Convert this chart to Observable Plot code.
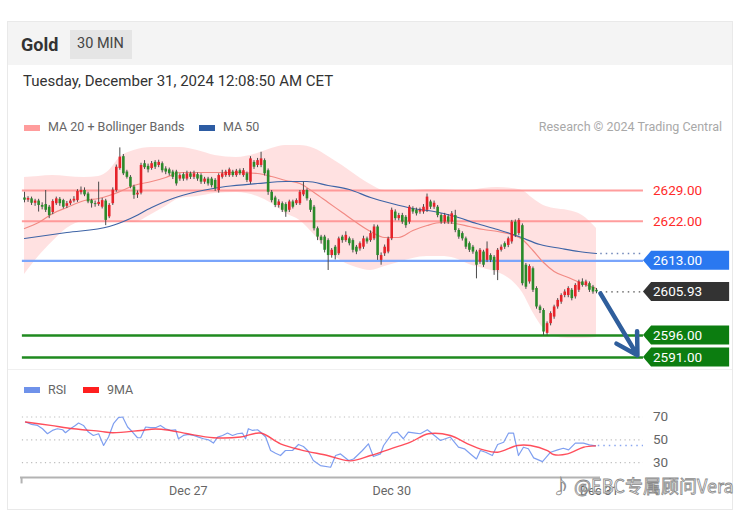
<!DOCTYPE html>
<html><head><meta charset="utf-8">
<script src="https://cdn.jsdelivr.net/npm/d3@7"></script>
<script src="https://cdn.jsdelivr.net/npm/@observablehq/plot@0.6"></script>
<style>
body{margin:0;background:#fff;font-family:Roboto,"Liberation Sans",Arial,sans-serif;}
#root{position:relative;width:747px;height:519px;overflow:hidden;background:#fff;}
.abs{position:absolute;line-height:1;white-space:nowrap;}
#price,#rsi{position:absolute;left:0;}
#price{top:140px;} #rsi{top:380px;}
</style></head><body><div id="root">
<div class="abs" style="left:7px;top:21px;width:726px;height:489px;border:1px solid #e9e9e9;box-sizing:border-box;"></div>
<div class="abs" style="left:8px;top:22px;width:724px;height:43px;background:#f4f4f4;"></div>
<div class="abs" style="left:21px;top:36px;font-size:18px;font-weight:bold;color:#333;">Gold</div>
<div class="abs" style="left:70px;top:30px;width:62px;height:29px;background:#e5e5e5;"></div>
<div class="abs" style="left:77px;top:37px;font-size:14.5px;color:#444;">30 MIN</div>
<div class="abs" style="left:23px;top:74px;font-size:15px;color:#333;">Tuesday, December 31, 2024 12:08:50 AM CET</div>
<div class="abs" style="left:24px;top:125px;width:16px;height:6px;background:#ff9c9c;"></div>
<div class="abs" style="left:48px;top:121px;font-size:12.5px;color:#666;">MA 20 + Bollinger Bands</div>
<div class="abs" style="left:199px;top:125px;width:16px;height:6px;background:#2d5ca3;"></div>
<div class="abs" style="left:223px;top:121px;font-size:12.5px;color:#666;">MA 50</div>
<div class="abs" style="right:25px;top:121px;font-size:12.5px;color:#a8a8a8;">Research © 2024 Trading Central</div>
<div class="abs" style="left:8px;top:369px;width:724px;height:1px;background:#f0f0f0;"></div>
<div class="abs" style="left:24px;top:387px;width:16px;height:6px;background:#6f92ea;"></div>
<div class="abs" style="left:48px;top:384px;font-size:12.5px;color:#666;">RSI</div>
<div class="abs" style="left:83px;top:387px;width:16px;height:6px;background:#ff1f1f;"></div>
<div class="abs" style="left:107px;top:384px;font-size:12.5px;color:#666;">9MA</div>
<div id="price"></div>
<div id="rsi"></div>
<div class="abs" style="left:552px;top:476px;font-size:18px;font-family:'Noto Sans CJK SC',sans-serif;color:rgba(255,255,255,0.92);-webkit-text-stroke:0.8px #8a8a8a;">♪ @EBC专属顾问Vera</div>
</div>
<script>
// ---- candles (30 min), index = candle number ----
const open = [2627.3,2626.8,2627.1,2626.1,2626.6,2625.6,2625.8,2625.2,2624.0,2626.0,
2627.0,2626.7,2625.4,2626.0,2626.6,2626.7,2628.5,2629.0,2628.2,2626.7,
2626.0,2625.8,2625.2,2626.6,2623.0,2626.0,2629.0,2634.0,2636.7,2633.2,
2632.0,2629.8,2628.0,2628.4,2635.1,2634.5,2634.0,2635.4,2634.7,2635.1,
2633.9,2633.7,2633.2,2633.2,2631.6,2632.6,2631.6,2632.8,2632.0,2632.6,
2632.4,2630.9,2631.6,2631.6,2631.3,2629.0,2632.0,2632.4,2632.4,2633.2,
2632.4,2633.5,2632.4,2632.8,2630.9,2635.4,2634.7,2634.7,2635.8,2633.5,
2628.6,2627.3,2625.6,2626.0,2625.8,2624.5,2626.4,2626.0,2626.0,2628.0,
2629.0,2626.7,2625.2,2620.3,2618.4,2618.4,2617.6,2614.2,2616.1,2614.6,
2618.4,2617.6,2618.0,2617.6,2616.1,2615.7,2616.1,2618.0,2617.6,2618.0,
2620.7,2613.1,2614.6,2615.0,2618.0,2624.1,2622.6,2623.3,2622.9,2621.8,
2624.8,2624.5,2624.1,2624.1,2624.5,2626.4,2625.2,2625.2,2623.3,2621.8,
2623.0,2621.8,2623.3,2619.9,2619.2,2618.0,2616.9,2616.1,2615.0,2612.7,
2615.0,2613.1,2614.2,2613.8,2610.8,2615.4,2616.9,2616.5,2617.3,2621.8,
2619.2,2621.0,2612.0,2608.2,2611.2,2606.7,2602.5,2601.7,2596.5,2598.7,
2600.2,2602.5,2603.6,2605.1,2605.1,2606.3,2604.8,2606.3,2608.2,2607.4,
2607.8,2607.0,2606.3];
const high = [2628.6,2627.6,2627.5,2627.0,2627.0,2626.2,2629.0,2625.6,2626.9,2627.5,
2627.4,2627.0,2626.5,2627.0,2627.6,2629.2,2629.8,2629.6,2628.6,2627.0,
2626.6,2630.9,2627.2,2627.0,2626.0,2629.6,2634.8,2638.7,2637.2,2633.6,
2632.4,2630.2,2628.9,2635.2,2635.8,2635.0,2635.6,2635.8,2635.9,2635.5,
2634.4,2634.1,2633.6,2633.6,2632.8,2633.0,2633.4,2633.2,2633.4,2633.0,
2632.8,2632.0,2632.0,2632.0,2631.7,2632.8,2633.6,2633.6,2634.1,2633.6,
2633.8,2633.9,2634.0,2633.2,2636.7,2635.8,2636.3,2637.7,2636.2,2633.9,
2629.0,2627.7,2626.9,2626.4,2626.2,2626.8,2626.8,2627.1,2629.0,2630.9,
2629.4,2627.1,2625.6,2620.7,2618.8,2618.8,2618.0,2615.8,2616.5,2618.4,
2618.8,2619.6,2618.4,2618.0,2616.5,2617.3,2618.6,2618.4,2619.8,2621.2,
2621.1,2614.8,2616.6,2618.4,2625.0,2624.6,2623.8,2623.8,2623.3,2625.6,
2625.3,2625.0,2625.0,2625.8,2628.2,2626.8,2626.6,2625.6,2623.7,2623.8,
2623.5,2624.2,2624.5,2620.3,2619.6,2618.4,2617.3,2616.5,2615.4,2615.8,
2615.4,2617.3,2614.6,2614.2,2615.8,2616.6,2617.3,2618.4,2622.2,2622.3,
2622.6,2621.4,2612.4,2612.1,2611.6,2607.1,2602.9,2602.1,2599.1,2601.4,
2602.9,2604.4,2605.5,2606.4,2607.1,2606.7,2607.8,2608.6,2608.9,2608.6,
2608.2,2607.4,2606.7];
const low = [2626.2,2626.3,2625.6,2625.4,2624.1,2624.6,2624.0,2622.6,2623.5,2625.6,
2625.4,2624.8,2624.9,2625.6,2626.2,2626.3,2628.0,2627.6,2626.0,2625.0,
2625.2,2625.4,2624.8,2621.0,2622.6,2625.6,2628.6,2633.6,2632.4,2631.6,
2629.4,2627.0,2627.2,2628.0,2633.8,2633.0,2633.6,2633.8,2634.2,2633.0,
2632.6,2632.3,2631.5,2630.0,2631.1,2631.1,2631.2,2631.5,2631.5,2631.1,
2630.4,2630.4,2630.0,2629.6,2628.8,2628.4,2631.6,2632.0,2632.0,2632.0,
2632.0,2632.4,2632.0,2630.8,2630.4,2633.8,2634.2,2634.2,2632.3,2627.9,
2626.2,2625.1,2625.0,2624.0,2622.9,2624.0,2624.8,2625.6,2625.6,2627.6,
2626.6,2624.0,2619.8,2617.6,2616.8,2614.8,2610.8,2613.6,2613.2,2614.2,
2617.0,2617.2,2616.4,2614.8,2614.4,2615.2,2615.6,2616.8,2617.2,2617.6,
2613.1,2612.0,2614.0,2614.6,2617.6,2622.1,2622.1,2621.3,2620.4,2621.3,
2623.6,2623.2,2623.6,2623.6,2624.0,2624.7,2624.7,2622.8,2621.3,2621.3,
2621.3,2621.3,2619.4,2617.9,2617.5,2615.6,2614.9,2614.5,2608.9,2612.2,
2611.5,2612.6,2612.6,2609.7,2608.5,2615.0,2615.6,2616.0,2616.8,2618.3,
2618.7,2607.3,2606.5,2607.7,2605.8,2602.0,2601.0,2596.0,2596.0,2598.2,
2599.7,2602.0,2603.1,2604.6,2604.6,2603.9,2604.3,2605.8,2607.0,2607.0,
2605.8,2605.4,2605.5];
const close = [2626.8,2627.2,2626.1,2626.6,2625.6,2625.2,2624.5,2623.3,2626.5,2627.1,
2626.0,2625.2,2626.0,2626.6,2627.0,2628.8,2629.0,2628.0,2626.4,2626.0,
2625.8,2626.3,2626.7,2622.2,2625.6,2629.1,2634.3,2636.6,2632.8,2632.0,
2629.8,2627.9,2628.4,2634.7,2634.2,2633.7,2635.1,2634.3,2635.4,2633.5,
2633.2,2632.8,2632.0,2630.5,2632.4,2631.6,2632.8,2632.0,2632.8,2631.6,
2630.9,2631.6,2630.5,2630.1,2629.4,2632.4,2632.8,2633.2,2633.7,2632.4,
2633.4,2632.8,2633.5,2631.3,2636.2,2634.3,2635.8,2636.2,2632.8,2628.6,
2626.7,2625.6,2626.4,2624.5,2624.1,2626.4,2625.2,2626.7,2628.6,2629.0,
2627.1,2624.5,2620.3,2618.4,2617.6,2615.4,2614.2,2615.4,2614.2,2618.0,
2617.6,2618.8,2616.9,2615.4,2615.0,2616.9,2618.0,2617.3,2619.2,2620.7,
2614.2,2614.2,2616.1,2618.0,2624.5,2622.6,2623.3,2621.8,2621.0,2625.2,
2624.1,2623.7,2624.5,2625.2,2627.5,2625.2,2626.1,2623.3,2621.8,2623.3,
2621.8,2623.7,2619.9,2618.4,2618.0,2616.1,2615.4,2615.0,2612.0,2615.4,
2612.0,2615.7,2613.1,2610.8,2615.4,2616.1,2616.1,2618.0,2621.8,2618.8,
2622.2,2607.8,2607.0,2611.7,2606.3,2602.5,2601.7,2596.8,2598.7,2601.0,
2602.5,2604.0,2605.1,2605.9,2606.7,2604.4,2607.4,2608.2,2607.4,2608.2,
2606.3,2605.9,2605.93];

// ---- MA20 + Bollinger bands, MA50 (sampled at candle index) ----
const bandIdx = [0,4,8,12,17,21,24,27,31,36,40,44,49,54,60,66,70,74,78,82,86,90,94,98,102,106,110,114,118,122,126,130,134,138,141,144,147,150,154,158,162];
const ma20 = [2620.35,2621.72,2623.77,2625.13,2626.72,2627.18,2627.86,2628.77,2630.14,2631.05,2631.96,2633.10,2633.10,2633.10,2633.10,2632.87,2632.19,2631.28,2630.59,2628.54,2626.27,2623.99,2621.72,2619.67,2618.31,2618.31,2619.90,2621.04,2621.72,2621.49,2620.81,2620.13,2619.67,2618.99,2617.85,2615.35,2612.62,2610.57,2609.20,2607.84,2606.70];
const bbUpper = [2631.96,2632.19,2632.41,2632.19,2631.96,2632.19,2633.55,2636.51,2638.10,2638.78,2638.78,2638.78,2638.10,2636.96,2636.51,2637.42,2638.56,2639.24,2639.24,2638.56,2636.74,2634.69,2632.41,2630.37,2629.00,2629.00,2629.00,2629.23,2629.23,2629.00,2629.00,2629.46,2629.68,2629.46,2629.00,2627.18,2625.59,2624.90,2624.45,2623.31,2620.35];
const bbLower = [2609.89,2613.98,2617.40,2620.35,2621.95,2621.95,2621.95,2621.72,2621.72,2623.54,2625.36,2627.18,2627.63,2628.32,2628.54,2627.63,2626.04,2623.77,2622.17,2618.99,2615.35,2612.85,2611.48,2610.80,2611.71,2612.62,2613.53,2613.98,2613.98,2613.53,2612.16,2611.25,2610.34,2608.52,2605.79,2601.24,2597.60,2595.78,2595.33,2595.33,2595.55];
const ma50Idx = [0,12,24,30,36,42,49,57,66,74,80,86,92,98,104,110,116,122,128,134,140,146,152,157,162];
const ma50 = [2618.08,2619.44,2620.81,2622.63,2625.13,2627.18,2628.77,2629.91,2630.59,2631.05,2631.05,2630.14,2629.23,2627.41,2626.04,2624.90,2624.22,2623.08,2621.49,2620.13,2618.53,2616.71,2615.80,2615.12,2614.67];

// ---- levels ----
const resistances = [2629.00, 2622.00];
const pivot = 2613.00;
const lastPrice = 2605.93;
const supports = [2596.00, 2591.00];
const forecast = {fromIdx: 163.1, fromPrice: 2605.6, toIdx: 173.6, toPrice: 2591.5};

// ---- RSI ----
const rsiIdx = [0.3,2,3.7,5.1,6.5,7.9,9.3,10.8,11.6,13,14.4,15.3,16.7,18.1,19.5,21,22.4,23.8,25.2,26.6,27.8,29.2,30.6,32,32.9,34.3,35.7,37.1,38.5,39.9,41.3,42.8,43.6,45,46.4,47.9,49.3,50.7,52.1,53.5,54.7,56.1,57.5,58.9,60.3,61.7,62.6,63.4,64.6,66,66.8,68.3,69.7,71.1,72.5,73.9,75.9,77.6,79,80.4,81.8,83.8,86.7,88.1,89.5,91.8,93.2,95.7,97.4,98.8,100.8,101.7,104.2,105.6,107.3,108.7,110.7,112.1,114.1,115.5,117.8,120.6,122.9,124.6,126.3,128,129.1,130.6,132.5,134,135.7,137.1,138.5,139.9,141.3,142.7,144.2,146.7,149,151,152.6,154.1,156,158.3,160,161.7];
const rsiVal = [65.6,63.5,62.6,59.7,55.3,58.2,59.7,58.8,56.2,59.7,62.6,64.7,62.6,56.8,53.8,55.3,45,52.4,64.1,69.4,70,61.2,56.8,51.8,51.8,61.2,60.6,60.6,62.6,59.7,58.2,58.8,50.9,53.8,54.7,53.8,52.4,50.9,50,47.1,52.4,53.8,55.9,53.8,55.3,55.9,50.9,59.7,58.2,58.8,56.8,52.4,40.6,38.2,36.2,40.6,40.6,45.9,44.1,40,31.8,27.4,25.9,36.2,37.6,31.8,33.2,40.6,46.5,35.3,37.6,45,55.9,56.8,50.9,56.8,55.9,55.3,58.8,55.3,49.4,52.4,43.5,42.1,37.6,33.2,40.6,39.1,36.2,45.9,47.9,55.9,55.9,36.2,43.5,42.1,34.1,30.9,39.1,41.2,42.6,41.2,47.1,47.1,45.5,44.7];
const rsiMaIdx = [0.3,7.4,13.9,21.5,24.9,32.9,37.1,41.3,46.2,53.5,61.2,66.8,72.5,78.2,85.8,92.3,98,103.7,109.3,114.4,120.6,125.5,130,134,139.6,143.3,148.1,149.8,153.8,158.3,161.7];
const rsiMaVal = [65.6,62.6,59.7,57.4,56.2,58.2,59.5,58.2,55.3,51.8,52.4,55.9,46.5,41.2,36.2,31.5,36.2,42.1,47.9,55.3,53.8,46.5,41.2,39.1,45,45,40.6,37.1,37.6,43.5,44.7];
const rsiLevels = [70, 50, 30];
const rsiLast = 45;

// ---- x axis ticks ----
const tickIdx = [46.4, 104, 162.8];
const tickLabels = ["Dec 27", "Dec 30", "Dec 31"];

// ===== build =====
const FONT = 'Roboto, "Liberation Sans", Arial, sans-serif';
const X_DOMAIN = [-1.133, 163.13];
const LINE_START = -0.6, LINE_END = 175.3, LABEL_SHOULDER = 177.6, LABEL_RIGHT = 199.7, LABEL_TEXT = 178.0;

const candles = close.map((c, i) => ({i, o: open[i], h: high[i], l: low[i], c}));
const up = candles.filter(d => d.c >= d.o);
const down = candles.filter(d => d.c < d.o);
const bands = bandIdx.map((i, k) => ({i, ma: ma20[k], up: bbUpper[k], lo: bbLower[k]}));
const ma50d = ma50Idx.map((i, k) => ({i, v: ma50[k]}));

const boxHalf = 2.16;
const labels = [
  {v: pivot, color: "#2a78f0"},
  {v: lastPrice, color: "#333333"},
  {v: supports[0], color: "#0c7d10"},
  {v: supports[1], color: "#0c7d10"}
];
const boxPts = v => [
  {x: LINE_END, y1: v, y2: v},
  {x: LABEL_SHOULDER, y1: v - boxHalf, y2: v + boxHalf},
  {x: LABEL_RIGHT, y1: v - boxHalf, y2: v + boxHalf}
];

const price = Plot.plot({
  width: 747, height: 240,
  marginLeft: 20, marginRight: 147, marginTop: 0, marginBottom: 0,
  x: {domain: X_DOMAIN, axis: null},
  y: {domain: [2585.77, 2640.38], axis: null},
  style: {background: "transparent", fontFamily: FONT, overflow: "visible"},
  marks: [
    Plot.areaY(bands, {x: "i", y1: "lo", y2: "up", fill: "#ffdede", fillOpacity: 0.9, curve: "monotone-x"}),
    Plot.ruleY(resistances, {x1: () => LINE_START, x2: () => LINE_END, y: d => d, stroke: "#ff8c8c", strokeWidth: 2, strokeOpacity: 0.85}),
    Plot.ruleY([pivot], {x1: () => LINE_START, x2: () => LINE_END, y: d => d, stroke: "#7aa5fb", strokeWidth: 2.2}),
    Plot.ruleY(supports, {x1: () => LINE_START, x2: () => LINE_END, y: d => d, stroke: "#1f8a1f", strokeWidth: 2.6}),
    Plot.line(bands, {x: "i", y: "ma", stroke: "#f28a84", strokeWidth: 1.2, curve: "monotone-x"}),
    Plot.line(ma50d, {x: "i", y: "v", stroke: "#3e64a6", strokeWidth: 1.2, curve: "monotone-x"}),
    Plot.ruleX(candles, {x: "i", y1: "l", y2: "h", stroke: "#4a4a4a", strokeWidth: 1}),
    Plot.ruleX(up, {x: "i", y1: "o", y2: "c", stroke: "#e5232a", strokeWidth: 2.6}),
    Plot.ruleX(down, {x: "i", y1: "o", y2: "c", stroke: "#2a8a2a", strokeWidth: 2.6}),
    Plot.ruleY([ma50[ma50.length - 1]], {x1: () => 163.2, x2: () => LINE_END, y: d => d, stroke: "#6f86b8", strokeWidth: 1.3, strokeDasharray: "1.5,4"}),
    Plot.ruleY([lastPrice], {x1: () => 163.2, x2: () => LINE_END, y: d => d, stroke: "#555", strokeWidth: 1.3, strokeDasharray: "1.5,4"}),
    Plot.text(resistances, {x: () => LABEL_TEXT, y: d => d, text: d => d.toFixed(2), fill: "#ff2a2a", fontSize: 13.5, textAnchor: "start"}),
    ...labels.map(L => Plot.areaY(boxPts(L.v), {x: "x", y1: "y1", y2: "y2", fill: L.color})),
    Plot.text(labels, {x: () => LABEL_TEXT, y: "v", text: d => d.v.toFixed(2), fill: "white", fontSize: 13.5, textAnchor: "start"}),
    Plot.arrow([forecast], {x1: "fromIdx", y1: "fromPrice", x2: "toIdx", y2: "toPrice", stroke: "#2f5e9c", strokeWidth: 4.5, headLength: 17, bend: 0})
  ]
});
document.getElementById("price").append(price);

const rsiData = rsiIdx.map((i, k) => ({i, v: rsiVal[k]}));
const rsiMa = rsiMaIdx.map((i, k) => ({i, v: rsiMaVal[k]}));
const Y_RSI = [16.93, 102.0];
const tickMap = new Map(tickIdx.map((t, k) => [t, tickLabels[k]]));

const rsi = Plot.plot({
  width: 747, height: 125,
  marginLeft: 20, marginRight: 147, marginTop: 0, marginBottom: 28,
  x: {domain: X_DOMAIN},
  y: {domain: Y_RSI, axis: null},
  style: {background: "transparent", fontFamily: FONT, overflow: "visible"},
  marks: [
    Plot.ruleY(rsiLevels, {x1: () => LINE_START, x2: () => LINE_END, y: d => d, stroke: "#bdbdbd", strokeWidth: 1.2, strokeDasharray: "1.2,3.4"}),
    Plot.text(rsiLevels, {x: () => LABEL_TEXT, y: d => d, text: d => String(d), fill: "#666", fontSize: 13.5, textAnchor: "start"}),
    Plot.line(rsiData, {x: "i", y: "v", stroke: "#7f9ff0", strokeWidth: 1.2}),
    Plot.line(rsiMa, {x: "i", y: "v", stroke: "#ff3040", strokeWidth: 1.4, strokeOpacity: 0.85, curve: "catmull-rom"}),
    Plot.ruleY([rsiLast], {x1: () => 162.5, x2: () => LINE_END, y: d => d, stroke: "#8aa6f0", strokeWidth: 1.3, strokeDasharray: "1.5,4"}),
    Plot.ruleY([Y_RSI[0]], {stroke: "#b3b3b3", strokeWidth: 2}),
    Plot.ruleX([X_DOMAIN[0] + 0.3], {x: d => d, y1: () => Y_RSI[0], y2: () => 11.3, stroke: "#b3b3b3", strokeWidth: 2}),
    Plot.axisX({ticks: tickIdx, tickFormat: d => tickMap.get(d), tickSize: 0, tickPadding: 9, fontSize: 12.5, fill: "#666", label: null})
  ]
});
document.getElementById("rsi").append(rsi);
</script>
</body></html>
